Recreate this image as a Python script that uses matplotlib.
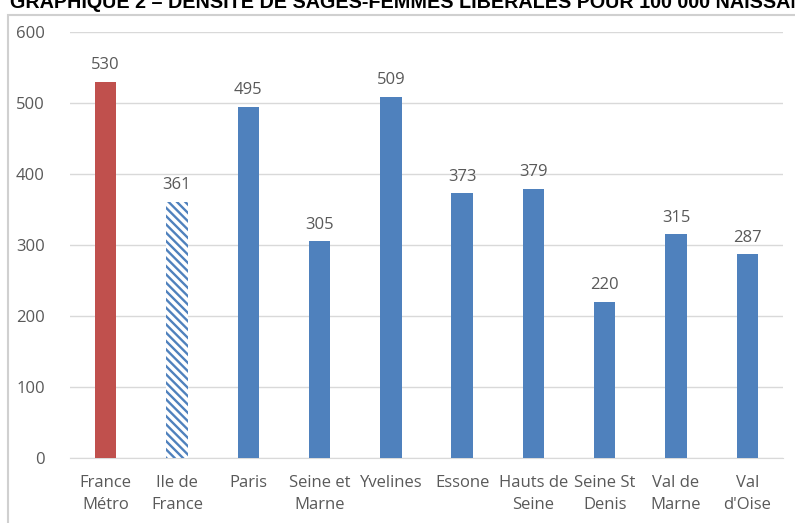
import matplotlib.pyplot as plt
from matplotlib.patches import Rectangle

# Densité de sages-femmes libérales pour 100 000 naissances
territoires = ["France\nMétro", "Ile de\nFrance", "Paris", "Seine et\nMarne", "Yvelines",
               "Essone", "Hauts de\nSeine", "Seine St\nDenis", "Val de\nMarne", "Val\nd'Oise"]
densite = [530, 361, 495, 305, 509, 373, 379, 220, 315, 287]

rouge = "#C0504D"
bleu = "#4F81BD"
gris = "#595959"

plt.rcParams['font.family'] = ['Open Sans', 'DejaVu Sans']
plt.rcParams['hatch.linewidth'] = 1.7

fig = plt.figure(figsize=(7.95, 5.23), dpi=100)
W, H = 795, 523

# cadre gris autour du graphique
fig.patches.append(Rectangle((8 / W, -0.05), 1.0, (H - 15) / H + 0.05,
                             transform=fig.transFigure, fill=False,
                             edgecolor="#D0D0D0", linewidth=1.5))

# titre, coupé en haut
fig.text(10 / W, 1 - 8 / H, "GRAPHIQUE 2 – DENSITE DE SAGES-FEMMES LIBERALES POUR 100 000 NAISSANCES",
         fontsize=14.2, fontweight="bold", family=["Liberation Sans Narrow", "Liberation Sans"],
         ha="left", va="baseline", color="black")

ax = fig.add_axes([70 / W, (H - 458) / H, 713 / W, 426 / H])
x = list(range(len(territoires)))
bars = ax.bar(x, densite, width=0.3, color=bleu, zorder=3)
bars[0].set_facecolor(rouge)
bars[1].set_facecolor("white")
bars[1].set_edgecolor(bleu)
bars[1].set_linewidth(0)
bars[1].set_hatch("\\\\\\\\")

for xi, v in zip(x, densite):
    ax.text(xi, v + 12, str(v), ha="center", va="bottom", fontsize=12, color=gris)

ax.set_xlim(-0.5, len(territoires) - 0.5)
ax.set_ylim(0, 600)
ax.set_yticks(range(0, 601, 100))
ax.yaxis.grid(True, color="#D9D9D9", linewidth=1, zorder=0)
ax.set_axisbelow(True)
ax.set_xticks(x)
ax.set_xticklabels(territoires, fontsize=12, color=gris, linespacing=1.55)
ax.tick_params(axis="y", labelsize=12, labelcolor=gris, length=0, pad=18)
ax.tick_params(axis="x", length=0, pad=12)
for s in ax.spines.values():
    s.set_visible(False)
ax.spines["bottom"].set_visible(True)
ax.spines["bottom"].set_color("#D9D9D9")

fig.savefig("out.png", dpi=100)
